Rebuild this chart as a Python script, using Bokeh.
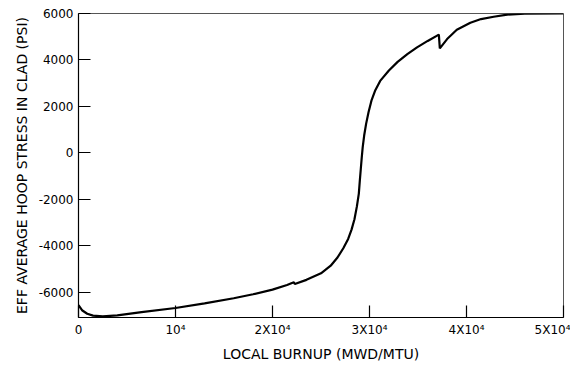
from bokeh.plotting import figure
from bokeh.models import FixedTicker, Range1d
from bokeh.embed import file_html
from bokeh.resources import INLINE

# Local burnup (MWD/MTU)
burnup = [0, 400, 900, 1500, 2500, 4000, 6500, 10000, 13000, 16000, 18000,
          20000, 21500, 22200, 22300, 23500, 25000, 26000, 26700, 27300,
          27800, 28150, 28450, 28700, 28900, 29000, 29100, 29200, 29300,
          29450, 29650, 29900, 30200, 30600, 31100, 32000, 32900, 33900,
          34900, 36000, 37150, 37250, 38000, 39000, 40400, 41500, 42800,
          44200, 46000, 50000]
# Effective average hoop stress in clad (PSI)
stress = [-6550, -6780, -6920, -7000, -7030, -6990, -6850, -6670, -6470,
          -6250, -6080, -5880, -5680, -5560, -5640, -5460, -5180, -4850,
          -4500, -4100, -3700, -3300, -2850, -2300, -1750, -1200, -700,
          -200, 250, 750, 1250, 1750, 2250, 2700, 3100, 3550, 3920, 4250,
          4540, 4820, 5090, 4500, 4900, 5300, 5600, 5760, 5860, 5950, 5990,
          6000]

x_ticks = [0, 10000, 20000, 30000, 40000, 50000]
x_tick_labels = ["0", "10\u2074", "2X10\u2074", "3X10\u2074", "4X10\u2074", "5X10\u2074"]
y_ticks = [-6000, -4000, -2000, 0, 2000, 4000, 6000]
y_tick_labels = ["-6000", "-4000", "-2000", "0", "2000", "4000", "6000"]

FONT = "DejaVu Sans"

p = figure(width=570, height=364, output_backend="svg", toolbar_location=None,
           x_range=Range1d(0, 50000), y_range=Range1d(-7080, 6000),
           min_border_left=78, min_border_right=7, min_border_top=13,
           min_border_bottom=35)

p.line(burnup, stress, line_color="black", line_width=2.2)

p.grid.visible = False
p.background_fill_color = "white"
p.border_fill_color = "white"
p.outline_line_color = "#555555"
p.outline_line_width = 1

for ax in (p.xaxis[0], p.yaxis[0]):
    ax.axis_line_color = "black"
    ax.axis_line_width = 1.2
    ax.major_tick_line_color = "black"
    ax.major_tick_line_width = 1.2
    ax.major_tick_in = 12
    ax.major_tick_out = 0
    ax.minor_tick_line_color = None
    ax.major_label_text_font = FONT
    ax.major_label_text_font_size = "12px"
    ax.major_label_text_color = "black"
    ax.axis_label_text_font = FONT
    ax.axis_label_text_font_size = "14px"
    ax.axis_label_text_font_style = "normal"
    ax.axis_label_text_color = "black"

p.xaxis[0].ticker = FixedTicker(ticks=x_ticks)
p.xaxis[0].major_label_overrides = {t: l for t, l in zip(x_ticks, x_tick_labels)}
p.xaxis[0].axis_label = "LOCAL BURNUP (MWD/MTU)"
p.xaxis[0].major_label_standoff = 5
p.xaxis[0].axis_label_standoff = 6

p.yaxis[0].ticker = FixedTicker(ticks=y_ticks)
p.yaxis[0].major_label_overrides = {t: l for t, l in zip(y_ticks, y_tick_labels)}
p.yaxis[0].axis_label = "EFF AVERAGE HOOP STRESS IN CLAD (PSI)"
p.yaxis[0].major_label_standoff = 5
p.yaxis[0].axis_label_standoff = 6

open("out.html", "w").write(file_html(p, INLINE))
